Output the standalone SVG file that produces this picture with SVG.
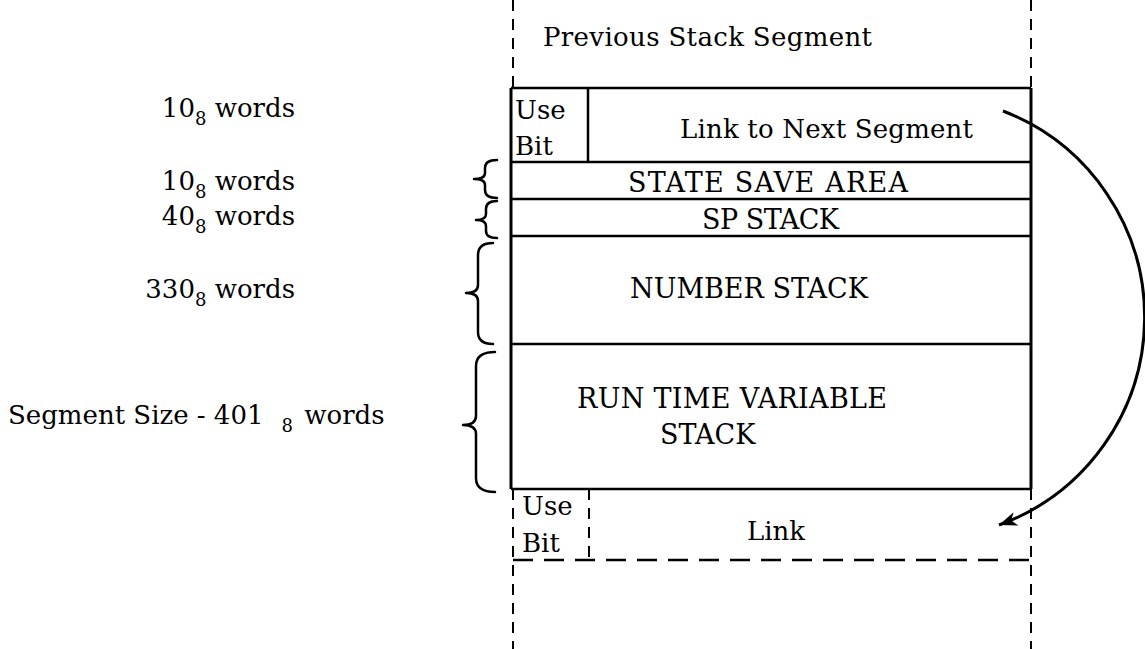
<svg xmlns="http://www.w3.org/2000/svg" width="1145" height="649" viewBox="0 0 1145 649">
  <style>
    text { font-family: "DejaVu Serif", "Liberation Serif", serif; font-size: 26px; fill: #000; }
    .caps { font-size: 27px; }
    .sub { font-size: 18px; }
    .solid { stroke: #000; stroke-width: 2.5; fill: none; }
    .edge { stroke: #000; stroke-width: 3; fill: none; }
    .dash { stroke: #000; stroke-width: 2; fill: none; stroke-dasharray: 11 8; }
    .hdash { stroke: #000; stroke-width: 2.5; fill: none; stroke-dasharray: 20 11; }
    .brace { stroke: #000; stroke-width: 2.5; fill: none; stroke-linecap: round; stroke-linejoin: round; }
    .link { stroke: #000; stroke-width: 3; fill: none; }
  </style>
  <defs>
    <marker id="arrowhead" markerUnits="userSpaceOnUse" markerWidth="22" markerHeight="14" refX="18" refY="7" orient="auto">
      <path d="M0,0 L18,7 L0,14 L5,7 z" fill="#000"/>
    </marker>
  </defs>

  <rect width="1145" height="649" fill="#fff"/>

  <!-- previous stack segment (open above) -->
  <g id="previous-segment">
    <line class="dash" x1="513" y1="0" x2="513" y2="88"/>
    <line class="dash" x1="1031" y1="0" x2="1031" y2="88"/>
    <text x="543" y="46" textLength="329">Previous Stack Segment</text>
  </g>

  <!-- current segment: header word -->
  <g id="header-row">
    <line class="solid" x1="511" y1="88" x2="1031" y2="88"/>
    <line class="solid" x1="588" y1="88" x2="588" y2="162"/>
    <text x="515" y="119">Use</text>
    <text x="515" y="155">Bit</text>
    <text x="680" y="138" textLength="293">Link to Next Segment</text>
  </g>

  <g id="state-save-area">
    <line class="solid" x1="511" y1="162" x2="1031" y2="162"/>
    <text class="caps" x="628" y="192" textLength="280">STATE SAVE AREA</text>
  </g>

  <g id="sp-stack">
    <line class="solid" x1="511" y1="199" x2="1031" y2="199"/>
    <text class="caps" x="702" y="229" textLength="137">SP STACK</text>
  </g>

  <g id="number-stack">
    <line class="solid" x1="511" y1="236" x2="1031" y2="236"/>
    <text class="caps" x="630" y="298">NUMBER STACK</text>
  </g>

  <g id="run-time-variable-stack">
    <line class="solid" x1="511" y1="344" x2="1031" y2="344"/>
    <text class="caps" x="577" y="408" textLength="310">RUN TIME VARIABLE</text>
    <text class="caps" x="660" y="444">STACK</text>
    <line class="solid" x1="511" y1="489" x2="1031" y2="489"/>
  </g>

  <!-- outer walls of the current segment -->
  <g id="segment-walls">
    <line class="edge" x1="511" y1="88" x2="511" y2="489"/>
    <line class="edge" x1="1031" y1="88" x2="1031" y2="489"/>
  </g>

  <!-- next segment header (dashed) -->
  <g id="next-segment">
    <line class="dash" x1="513" y1="489" x2="513" y2="649"/>
    <line class="dash" x1="1031" y1="489" x2="1031" y2="649"/>
    <line class="dash" x1="589" y1="489" x2="589" y2="560"/>
    <line class="hdash" x1="513" y1="560" x2="1031" y2="560"/>
    <text x="522" y="515">Use</text>
    <text x="522" y="552">Bit</text>
    <text x="747" y="540">Link</text>
  </g>

  <!-- size labels -->
  <g id="labels">
    <text x="295" y="117" text-anchor="end">10<tspan class="sub" dy="8">8</tspan><tspan dy="-8"> words</tspan></text>
    <text x="295" y="190" text-anchor="end">10<tspan class="sub" dy="8">8</tspan><tspan dy="-8"> words</tspan></text>
    <text x="295" y="225" text-anchor="end">40<tspan class="sub" dy="8">8</tspan><tspan dy="-8"> words</tspan></text>
    <text x="295" y="298" text-anchor="end">330<tspan class="sub" dy="8">8</tspan><tspan dy="-8"> words</tspan></text>
    <text x="8" y="424">Segment Size - 401<tspan class="sub" dx="18" dy="8">8</tspan><tspan dx="3" dy="-8"> words</tspan></text>
  </g>

  <!-- braces -->
  <g id="braces">
    <path class="brace" d="M497,160 Q485,160 485,168 L485,173 Q485,179 474,179 Q485,179 485,185 L485,190 Q485,198 497,198"/>
    <path class="brace" d="M497,201 Q486,201 486,209 L486,214 Q486,220 476,220 Q486,220 486,226 L486,231 Q486,238 497,238"/>
    <path class="brace" d="M493,243 Q478,243 478,255 L478,285 Q478,293 466,293 Q478,293 478,301 L478,332 Q478,344 493,344"/>
    <path class="brace" d="M495,352 Q476,352 476,366 L476,416 Q476,425 463,425 Q476,425 476,434 L476,478 Q476,492 495,492"/>
  </g>

  <!-- link pointer to the next segment -->
  <g id="connectors">
    <path class="link" d="M1003,111 A221,221 0 0 1 999,525" marker-end="url(#arrowhead)"/>
  </g>
</svg>
